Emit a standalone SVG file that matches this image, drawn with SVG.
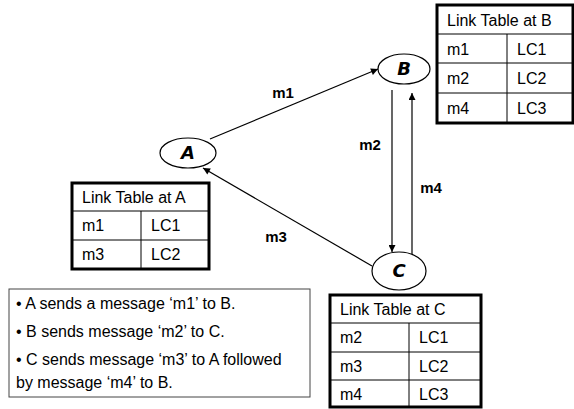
<svg xmlns="http://www.w3.org/2000/svg" width="574" height="409" viewBox="0 0 574 409">
<defs>
<style>
.bg{fill:#fff}
.node ellipse{fill:#fff;stroke:#000;stroke-width:1.2}
.node text{font-family:"DejaVu Sans",sans-serif;font-weight:bold;font-style:oblique;font-size:18px;text-anchor:middle;fill:#000}
.edge{stroke:#000;stroke-width:1.2;fill:none;marker-end:url(#arr)}
.lbl{font-family:"Liberation Sans",Arial,sans-serif;font-weight:bold;font-size:15px;fill:#000;text-anchor:middle}
.tbl .outer{fill:#fff;stroke:#000;stroke-width:3}
.tbl line{stroke:#000;stroke-width:1}
.tbl text,.note text{font-family:"Liberation Sans",Arial,sans-serif;font-size:16px;fill:#000}
.note rect{fill:#fff;stroke:#444;stroke-width:1}
</style>
<marker id="arr" viewBox="0 0 10 10" refX="10" refY="5" markerWidth="9" markerHeight="7" orient="auto" markerUnits="userSpaceOnUse"><path d="M0,0 L10,5 L0,10 z" fill="#000"/></marker>
</defs>
<rect class="bg" x="0" y="0" width="574" height="409"/>

<g id="connectors">
<line class="edge" x1="210" y1="139" x2="378" y2="69"/>
<line class="edge" x1="392" y1="90" x2="392" y2="252"/>
<line class="edge" x1="412" y1="254" x2="412" y2="93"/>
<line class="edge" x1="372" y1="266" x2="203" y2="168"/>
<text class="lbl" x="283" y="98">m1</text>
<text class="lbl" x="370" y="150">m2</text>
<text class="lbl" x="431" y="193">m4</text>
<text class="lbl" x="276" y="242">m3</text>
</g>

<g id="nodeA" class="node"><ellipse cx="188" cy="153" rx="28" ry="15"/><text x="188" y="159">A</text></g>
<g id="nodeB" class="node"><ellipse cx="404" cy="69" rx="26" ry="15"/><text x="404" y="75">B</text></g>
<g id="nodeC" class="node"><ellipse cx="399" cy="271" rx="27" ry="19"/><text x="399" y="277">C</text></g>

<g id="tableB" class="tbl">
<rect class="outer" x="437" y="5" width="136" height="118"/>
<line x1="437" y1="34" x2="573" y2="34"/><line x1="437" y1="63" x2="573" y2="63"/><line x1="437" y1="93" x2="573" y2="93"/>
<line x1="507" y1="34" x2="507" y2="123"/>
<text x="447" y="26">Link Table at B</text>
<text x="447" y="55">m1</text><text x="517" y="55">LC1</text>
<text x="447" y="84">m2</text><text x="517" y="84">LC2</text>
<text x="447" y="114">m4</text><text x="517" y="114">LC3</text>
</g>

<g id="tableA" class="tbl">
<rect class="outer" x="72" y="183" width="137" height="86"/>
<line x1="72" y1="211" x2="209" y2="211"/><line x1="72" y1="240" x2="209" y2="240"/>
<line x1="141" y1="211" x2="141" y2="269"/>
<text x="82" y="203">Link Table at A</text>
<text x="82" y="231">m1</text><text x="151" y="231">LC1</text>
<text x="82" y="260">m3</text><text x="151" y="260">LC2</text>
</g>

<g id="tableC" class="tbl">
<rect class="outer" x="330" y="295" width="151" height="112"/>
<line x1="330" y1="323" x2="481" y2="323"/><line x1="330" y1="352" x2="481" y2="352"/><line x1="330" y1="380" x2="481" y2="380"/>
<line x1="409" y1="323" x2="409" y2="407"/>
<text x="340" y="315">Link Table at C</text>
<text x="340" y="343">m2</text><text x="419" y="343">LC1</text>
<text x="340" y="372">m3</text><text x="419" y="372">LC2</text>
<text x="340" y="400">m4</text><text x="419" y="400">LC3</text>
</g>

<g id="note" class="note">
<rect x="9" y="289" width="301" height="108"/>
<text x="16" y="309">• A sends a message ‘m1’ to B.</text>
<text x="16" y="337">• B sends message ‘m2’ to C.</text>
<text x="16" y="365">• C sends message ‘m3’ to A followed</text>
<text x="16" y="388">by message ‘m4’ to B.</text>
</g>
</svg>
